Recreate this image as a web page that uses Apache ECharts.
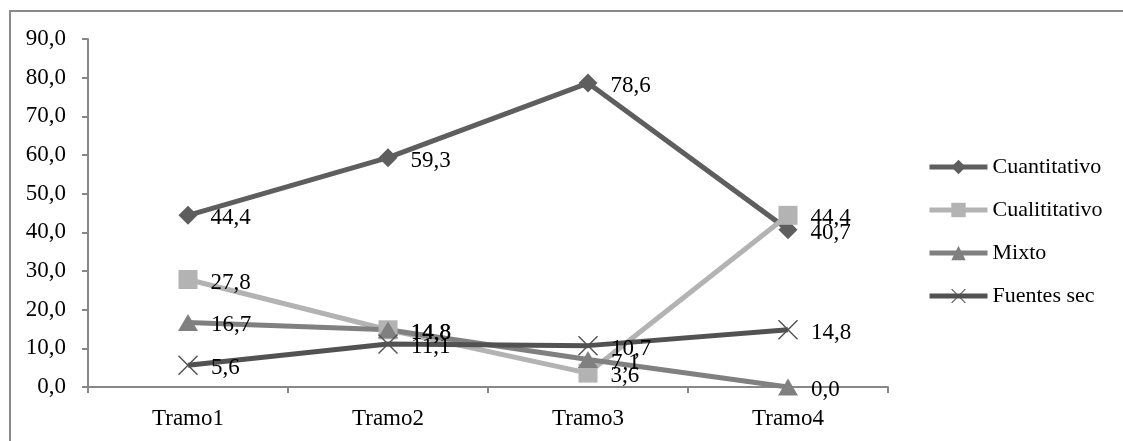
<!DOCTYPE html>
<html>
<head>
<meta charset="utf-8">
<script src="https://cdn.jsdelivr.net/npm/echarts@6/dist/echarts.min.js"></script>
<style>
  html, body { margin: 0; padding: 0; background: #fff; }
  #chart { width: 1123px; height: 441px; }
</style>
</head>
<body>
<div id="chart"></div>
<script>
// Categories and series values (percentages per tramo)
const categories = ['Tramo1', 'Tramo2', 'Tramo3', 'Tramo4'];
const cuantitativo = [44.4, 59.3, 78.6, 40.7];
const cualititativo = [27.8, 14.8, 3.6, 44.4];
const mixto = [16.7, 14.8, 7.1, 0.0];
const fuentesSec = [5.6, 11.1, 10.7, 14.8];
const seriesNames = ['Cuantitativo', 'Cualititativo', 'Mixto', 'Fuentes sec'];

const FONT = '"Liberation Serif", "Times New Roman", serif';
const AXIS_GRAY = '#878787';
const fmt = v => Number(v).toFixed(1).replace('.', ',');

// thin "x" marker as a filled polygon
const CROSS = 'path://M0,1L1,0L10,9L19,0L20,1L11,10L20,19L19,20L10,11L1,20L0,19L9,10Z';

function lineSeries(name, data, color, symbol, size) {
  return {
    name: name,
    type: 'line',
    data: data,
    symbol: symbol,
    symbolSize: size,
    lineStyle: { color: color, width: 5 },
    itemStyle: { color: color },
    label: {
      show: true,
      position: 'right',
      distance: 13,
      offset: [0, 3],
      formatter: p => fmt(p.value),
      color: '#000',
      fontFamily: FONT,
      fontSize: 23
    },
    emphasis: { disabled: true },
    animation: false
  };
}

const chart = echarts.init(document.getElementById('chart'));
chart.setOption({
  backgroundColor: '#fff',
  animation: false,
  graphic: [{
    type: 'rect',
    shape: { x: 10, y: 11, width: 1300, height: 600 },
    style: { fill: 'none', stroke: '#8a8a8a', lineWidth: 2 },
    z: -1
  }],
  grid: { left: 88, right: 235, top: 39, bottom: 54 },
  legend: {
    orient: 'vertical',
    left: 922,
    top: 151,
    itemWidth: 58,
    itemHeight: 18,
    itemGap: 21,
    selectedMode: false,
    lineStyle: { width: 5 },
    textStyle: { fontFamily: FONT, fontSize: 22, color: '#000', lineHeight: 22 },
    data: seriesNames
  },
  xAxis: {
    type: 'category',
    data: categories,
    boundaryGap: true,
    axisLine: { lineStyle: { color: AXIS_GRAY, width: 2 } },
    axisTick: { show: true, length: 6, alignWithLabel: false, lineStyle: { color: AXIS_GRAY, width: 2 } },
    axisLabel: { fontFamily: FONT, fontSize: 23, color: '#000', margin: 20 },
    splitLine: { show: false }
  },
  yAxis: {
    type: 'value',
    min: 0,
    max: 90,
    interval: 10,
    axisLine: { show: true, lineStyle: { color: AXIS_GRAY, width: 2 } },
    axisTick: { show: true, length: 6, lineStyle: { color: AXIS_GRAY, width: 2 } },
    axisLabel: { fontFamily: FONT, fontSize: 23, color: '#000', margin: 22, formatter: fmt },
    splitLine: { show: false }
  },
  series: [
    lineSeries(seriesNames[0], cuantitativo, '#5e5e5e', 'diamond', 19),
    lineSeries(seriesNames[1], cualititativo, '#b3b3b3', 'rect', 19),
    lineSeries(seriesNames[2], mixto, '#808080', 'triangle', [20, 17]),
    lineSeries(seriesNames[3], fuentesSec, '#525252', CROSS, 20)
  ]
});
</script>
</body>
</html>
